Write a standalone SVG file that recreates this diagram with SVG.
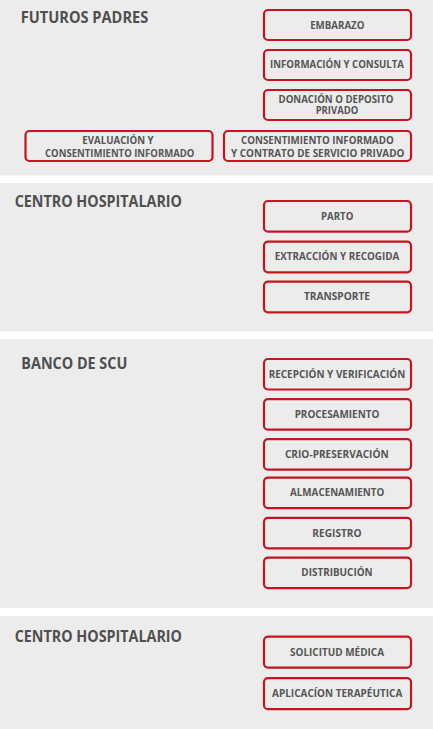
<svg xmlns="http://www.w3.org/2000/svg" width="433" height="729" viewBox="0 0 433 729">
<style>
.panel{fill:#ececec}
.box{fill:#ececec;stroke:#c8141e;stroke-width:2.2}
.title{font-family:"Open Sans","Liberation Sans",sans-serif;font-weight:700;font-size:15.3px;fill:#4f4f4f}
.lbl{font-family:"Open Sans","Liberation Sans",sans-serif;font-weight:700;font-size:9.8px;fill:#555555;text-anchor:middle}
</style>
<rect x="0" y="0" width="433" height="729" fill="#ffffff"/>
<g id="panel-futuros-padres">
<rect class="panel" x="0" y="0" width="433" height="175.5"/>
<text class="title" x="20.7" y="23.3" textLength="127.6" lengthAdjust="spacingAndGlyphs">FUTUROS PADRES</text>
</g>
<g id="panel-centro-hospitalario-1">
<rect class="panel" x="0" y="183" width="433" height="148.5"/>
<text class="title" x="14.7" y="206.7" textLength="167.3" lengthAdjust="spacingAndGlyphs">CENTRO HOSPITALARIO</text>
</g>
<g id="panel-banco-scu">
<rect class="panel" x="0" y="339.3" width="433" height="268.7"/>
<text class="title" x="21.3" y="369.3" textLength="106" lengthAdjust="spacingAndGlyphs">BANCO DE SCU</text>
</g>
<g id="panel-centro-hospitalario-2">
<rect class="panel" x="0" y="616" width="433" height="113"/>
<text class="title" x="14.7" y="642.3" textLength="167.3" lengthAdjust="spacingAndGlyphs">CENTRO HOSPITALARIO</text>
</g>
<g id="connectors"/>
<g id="embarazo">
<rect class="box" x="264" y="10" width="147" height="30" rx="4"/>
<text class="lbl" x="337.3" y="28.6" textLength="54.3" lengthAdjust="spacingAndGlyphs">EMBARAZO</text>
</g>
<g id="informacion-consulta">
<rect class="box" x="264" y="50" width="147" height="30" rx="4"/>
<text class="lbl" x="337" y="68.4" textLength="134" lengthAdjust="spacingAndGlyphs">INFORMACIÓN Y CONSULTA</text>
</g>
<g id="donacion-deposito">
<rect class="box" x="264" y="90" width="147" height="30" rx="4"/>
<text class="lbl" x="336" y="102.7" textLength="115" lengthAdjust="spacingAndGlyphs">DONACIÓN O DEPOSITO</text>
<text class="lbl" x="337" y="114.4" textLength="42.7" lengthAdjust="spacingAndGlyphs">PRIVADO</text>
</g>
<g id="evaluacion-consentimiento">
<rect class="box" x="25.5" y="131" width="187" height="30" rx="4"/>
<text class="lbl" x="118" y="144.4" textLength="71.3" lengthAdjust="spacingAndGlyphs">EVALUACIÓN Y</text>
<text class="lbl" x="119.7" y="156.7" textLength="149.3" lengthAdjust="spacingAndGlyphs">CONSENTIMIENTO INFORMADO</text>
</g>
<g id="consentimiento-contrato">
<rect class="box" x="224" y="131" width="187" height="30" rx="4"/>
<text class="lbl" x="317.4" y="144.4" textLength="152.7" lengthAdjust="spacingAndGlyphs">CONSENTIMIENTO INFORMADO</text>
<text class="lbl" x="317.7" y="156.7" textLength="173.3" lengthAdjust="spacingAndGlyphs">Y CONTRATO DE SERVICIO PRIVADO</text>
</g>
<g id="parto">
<rect class="box" x="264" y="201" width="147" height="30.7" rx="4"/>
<text class="lbl" x="337.2" y="219.8" textLength="32.3" lengthAdjust="spacingAndGlyphs">PARTO</text>
</g>
<g id="extraccion-recogida">
<rect class="box" x="264" y="241.6" width="147" height="30.7" rx="4"/>
<text class="lbl" x="337" y="260.3" textLength="124.7" lengthAdjust="spacingAndGlyphs">EXTRACCIÓN Y RECOGIDA</text>
</g>
<g id="transporte">
<rect class="box" x="264" y="281.6" width="147" height="30.7" rx="4"/>
<text class="lbl" x="337" y="300.3" textLength="66" lengthAdjust="spacingAndGlyphs">TRANSPORTE</text>
</g>
<g id="recepcion-verificacion">
<rect class="box" x="264" y="359" width="147" height="30.5" rx="4"/>
<text class="lbl" x="337" y="378" textLength="136.7" lengthAdjust="spacingAndGlyphs">RECEPCIÓN Y VERIFICACIÓN</text>
</g>
<g id="procesamiento">
<rect class="box" x="264" y="399.2" width="147" height="30.5" rx="4"/>
<text class="lbl" x="337" y="418.2" textLength="84.7" lengthAdjust="spacingAndGlyphs">PROCESAMIENTO</text>
</g>
<g id="crio-preservacion">
<rect class="box" x="264" y="439.2" width="147" height="30.5" rx="4"/>
<text class="lbl" x="336.8" y="458.2" textLength="103.7" lengthAdjust="spacingAndGlyphs">CRIO-PRESERVACIÓN</text>
</g>
<g id="almacenamiento">
<rect class="box" x="264" y="477.6" width="147" height="30.5" rx="4"/>
<text class="lbl" x="337.2" y="496.4" textLength="94.3" lengthAdjust="spacingAndGlyphs">ALMACENAMIENTO</text>
</g>
<g id="registro">
<rect class="box" x="264" y="517.8" width="147" height="30.5" rx="4"/>
<text class="lbl" x="337" y="536.6" textLength="49.3" lengthAdjust="spacingAndGlyphs">REGISTRO</text>
</g>
<g id="distribucion">
<rect class="box" x="264" y="557.6" width="147" height="30.5" rx="4"/>
<text class="lbl" x="337" y="576.4" textLength="71.3" lengthAdjust="spacingAndGlyphs">DISTRIBUCIÓN</text>
</g>
<g id="solicitud-medica">
<rect class="box" x="264" y="636.6" width="147" height="31" rx="4"/>
<text class="lbl" x="337" y="655.6" textLength="94" lengthAdjust="spacingAndGlyphs">SOLICITUD MÉDICA</text>
</g>
<g id="aplicacion-terapeutica">
<rect class="box" x="264" y="678.2" width="147" height="31" rx="4"/>
<text class="lbl" x="337.2" y="697.2" textLength="130.3" lengthAdjust="spacingAndGlyphs">APLICACÍON TERAPÉUTICA</text>
</g>
</svg>
